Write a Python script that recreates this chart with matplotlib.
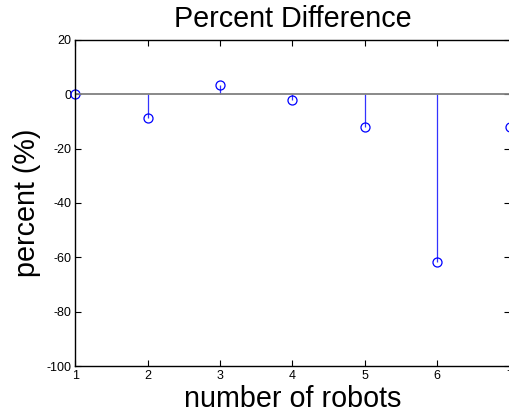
import numpy as np
import matplotlib.pyplot as plt

plt.rcParams['font.family'] = ['Liberation Sans', 'DejaVu Sans']
plt.rcParams['axes.unicode_minus'] = False

# percent difference per team size
robots = [1, 2, 3, 4, 5, 6, 7]
pct_diff = [0.0, -8.6, 3.5, -2.1, -11.9, -61.6, -11.9]

fig = plt.figure(figsize=(5.09, 4.18), dpi=100)
ax = fig.add_axes([0.1483, 0.1244, 0.8527, 0.78])

markerline, stemlines, baseline = ax.stem(robots, pct_diff, linefmt='b-', markerfmt='o', basefmt='-')
markerline.set_markerfacecolor('none')
markerline.set_markeredgecolor('blue')
markerline.set_markersize(6.5)
markerline.set_markeredgewidth(0.9)
markerline.set_clip_on(False)
stemlines.set_linewidth(0.9)
stemlines.set_color('#3333ff')
baseline.set_color('#808080')
baseline.set_linewidth(1.3)

ax.set_xlim(1, 7)
ax.set_ylim(-100, 20)
ax.set_xticks(robots)
ax.set_yticks([-100, -80, -60, -40, -20, 0, 20])

ax.tick_params(direction='in', length=4, width=0.8, labelsize=9, top=True, right=True, pad=3)
for s in ax.spines.values():
    s.set_linewidth(1.0)

ax.set_title('Percent Difference', fontsize=20.7, pad=9)
ax.set_xlabel('number of robots', fontsize=20.7, labelpad=2)
ax.set_ylabel('percent (%)', fontsize=20.7, labelpad=4)

fig.savefig('out.png', dpi=100)
